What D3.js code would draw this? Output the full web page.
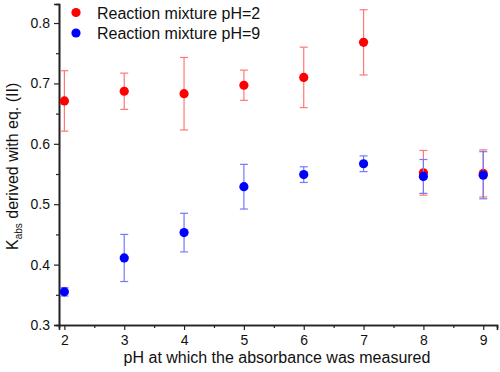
<!DOCTYPE html>
<html>
<head>
<meta charset="utf-8">
<script src="https://cdn.jsdelivr.net/npm/d3@7"></script>
<style>
body { margin: 0; background: #fff; }
svg { display: block; font-family: Arial, "Liberation Sans", sans-serif; }
</style>
</head>
<body>
<div id="chart"></div>
<script>
// pH where absorbance was measured
var phValues = [2, 3, 4, 5, 6, 7, 8, 9];

// reaction mixture pH=2
var redMean = [0.671, 0.687, 0.683, 0.697, 0.710, 0.768, 0.552, 0.551];
var redErr  = [0.050, 0.030, 0.060, 0.025, 0.050, 0.054, 0.037, 0.039];

// reaction mixture pH=9
var blueMean = [0.355, 0.411, 0.453, 0.529, 0.549, 0.567, 0.546, 0.548];
var blueErr  = [0.007, 0.039, 0.032, 0.037, 0.013, 0.013, 0.028, 0.039];

var xTicks = [2, 3, 4, 5, 6, 7, 8, 9];
var xMinor = [2.5, 3.5, 4.5, 5.5, 6.5, 7.5, 8.5];
var yTicks = [0.3, 0.4, 0.5, 0.6, 0.7, 0.8];
var yMinor = [0.35, 0.45, 0.55, 0.65, 0.75];

var seriesNames = ["Reaction mixture pH=2", "Reaction mixture pH=9"];

var w = 500, h = 372;

var svg = d3.select("#chart").append("svg")
    .attr("width", w)
    .attr("height", h);

var xScale = d3.scaleLinear().domain([1.91, 9.23]).range([59, 497]);
var yScale = d3.scaleLinear().domain([0.3, 0.8315]).range([325, 4]);

// axes
var xAxis = d3.axisBottom(xScale).tickValues(xTicks).tickSize(5).tickPadding(5)
    .tickFormat(d3.format("d"));
var xAxisMinor = d3.axisBottom(xScale).tickValues(xMinor).tickSize(3).tickFormat("");
var yAxis = d3.axisLeft(yScale).tickValues(yTicks).tickSize(5).tickPadding(4)
    .tickFormat(d3.format(".1f"));
var yAxisMinor = d3.axisLeft(yScale).tickValues(yMinor).tickSize(3).tickFormat("");

function styleAxis(g) {
    g.select(".domain").attr("stroke", "#222").attr("stroke-width", 1.6);
    g.selectAll(".tick line").attr("stroke", "#222").attr("stroke-width", 1.2);
    g.selectAll(".tick text").attr("fill", "#111").style("font-size", "14px");
}

svg.append("g").attr("transform", "translate(0,325)").call(xAxisMinor).call(styleAxis);
svg.append("g").attr("transform", "translate(0,325)").call(xAxis).call(styleAxis);
svg.append("g").attr("transform", "translate(59,0)").call(yAxisMinor).call(styleAxis);
svg.append("g").attr("transform", "translate(59,0)").call(yAxis).call(styleAxis);

// axis titles
svg.append("text")
    .attr("x", 277).attr("y", 363)
    .attr("text-anchor", "middle")
    .style("font-size", "16px")
    .attr("fill", "#111")
    .text("pH at which the absorbance was measured");

// y title, placed from its start (K at the bottom)
var yLab = svg.append("text")
    .attr("transform", "translate(18,250) rotate(-90)")
    .attr("text-anchor", "start")
    .style("font-size", "16px")
    .attr("fill", "#111");
yLab.append("tspan").text("K");
yLab.append("tspan").attr("dy", 4).style("font-size", "10px").text("abs");
yLab.append("tspan").attr("dy", -4).text(" derived with eq. (II)");

// draw one series with error bars
function drawSeries(mean, err, dotColor, barColor) {
    var data = phValues.map(function(p, i) {
        return { x: p, y: mean[i], e: err[i] };
    });
    var g = svg.append("g");
    var cap = 4;

    g.selectAll(".eb").data(data).enter().append("line")
        .attr("x1", function(d) { return xScale(d.x); })
        .attr("x2", function(d) { return xScale(d.x); })
        .attr("y1", function(d) { return yScale(d.y + d.e); })
        .attr("y2", function(d) { return yScale(d.y - d.e); })
        .attr("stroke", barColor).attr("stroke-width", 1.2);

    g.selectAll(".capTop").data(data).enter().append("line")
        .attr("x1", function(d) { return xScale(d.x) - cap; })
        .attr("x2", function(d) { return xScale(d.x) + cap; })
        .attr("y1", function(d) { return yScale(d.y + d.e); })
        .attr("y2", function(d) { return yScale(d.y + d.e); })
        .attr("stroke", barColor).attr("stroke-width", 1.2);

    g.selectAll(".capBot").data(data).enter().append("line")
        .attr("x1", function(d) { return xScale(d.x) - cap; })
        .attr("x2", function(d) { return xScale(d.x) + cap; })
        .attr("y1", function(d) { return yScale(d.y - d.e); })
        .attr("y2", function(d) { return yScale(d.y - d.e); })
        .attr("stroke", barColor).attr("stroke-width", 1.2);

    g.selectAll("circle").data(data).enter().append("circle")
        .attr("cx", function(d) { return xScale(d.x); })
        .attr("cy", function(d) { return yScale(d.y); })
        .attr("r", 4.6)
        .attr("fill", dotColor);
}

drawSeries(redMean, redErr, "#ff0000", "#f77");
drawSeries(blueMean, blueErr, "#0000ff", "#77f");

// legend
var legend = svg.append("g");
[["#ff0000", 12.5], ["#0000ff", 33]].forEach(function(item, i) {
    legend.append("circle").attr("cx", 76).attr("cy", item[1]).attr("r", 4.6).attr("fill", item[0]);
    legend.append("text").attr("x", 97).attr("y", item[1] + 6)
        .style("font-size", "16px").attr("fill", "#111")
        .text(seriesNames[i]);
});
</script>
</body>
</html>
